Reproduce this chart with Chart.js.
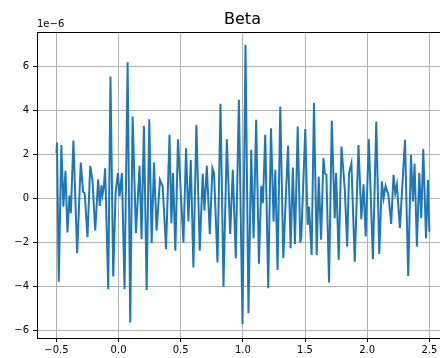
<!DOCTYPE html>
<html>
<head>
<meta charset="utf-8">
<script src="https://cdn.jsdelivr.net/npm/chart.js@4/dist/chart.umd.min.js"></script>
<style>
  html, body { margin: 0; padding: 0; background: #fff; overflow: hidden; }
  #wrap { width: 440px; height: 358px; overflow: hidden; }
</style>
</head>
<body>
<div id="wrap"><canvas id="betaChart" width="460" height="358"></canvas></div>
<script>
// time axis (x) and signal (in units of 1e-6)
let xVals = [
    -0.500, -0.495, -0.481, -0.460, -0.444, -0.427, -0.411, -0.395, -0.384, -0.363,
    -0.333, -0.304, -0.285, -0.272, -0.250, -0.228, -0.210, -0.188, -0.164, -0.151,
    -0.137, -0.129, -0.119, -0.108, -0.083, -0.065, -0.043, -0.024, -0.005, 0.008,
    0.027, 0.048, 0.073, 0.094, 0.113, 0.140, 0.169, 0.185, 0.204, 0.226,
    0.247, 0.266, 0.285, 0.306, 0.333, 0.355, 0.382, 0.410, 0.425, 0.438,
    0.457, 0.478, 0.522, 0.543, 0.562, 0.581, 0.602, 0.626, 0.653, 0.677,
    0.691, 0.710, 0.734, 0.755, 0.768, 0.796, 0.820, 0.844, 0.871, 0.898,
    0.919, 0.943, 0.968, 0.997, 1.021, 1.045, 1.067, 1.086, 1.107, 1.129,
    1.148, 1.161, 1.180, 1.204, 1.226, 1.247, 1.261, 1.279, 1.301, 1.325,
    1.363, 1.384, 1.402, 1.419, 1.441, 1.462, 1.470, 1.502, 1.521, 1.532,
    1.553, 1.572, 1.594, 1.610, 1.629, 1.648, 1.659, 1.672, 1.693, 1.715,
    1.739, 1.750, 1.771, 1.793, 1.820, 1.839, 1.854, 1.873, 1.900, 1.930,
    1.953, 1.971, 1.988, 2.013, 2.046, 2.073, 2.097, 2.118, 2.132, 2.148,
    2.171, 2.193, 2.212, 2.226, 2.239, 2.263, 2.304, 2.330, 2.352, 2.368,
    2.381, 2.400, 2.419, 2.435, 2.451, 2.473, 2.489, 2.500
];
let betaVals = [
    2.05, 2.53, -3.79, 2.42, -0.38, 1.24, -1.56, 0.12, -0.68, 2.62,
    -2.50, 1.62, 0.30, 0.20, -1.77, 1.47, 0.83, -1.47, 0.86, -0.35,
    0.58, 0.15, 0.50, 1.36, -4.14, 5.53, -3.56, 0.23, 1.14, 0.08,
    1.14, -4.14, 6.17, -5.65, 3.71, -1.59, 1.47, -1.86, 3.29, -4.17,
    3.59, -2.05, 1.62, -1.47, 0.83, 0.53, -2.32, 2.88, -1.14, 1.14,
    -2.38, 2.68, -2.02, 2.27, -1.06, 1.74, -3.15, 3.33, -2.38, 1.11,
    -0.56, 1.47, -1.64, 1.36, 1.14, -2.92, 4.29, -4.02, 2.68, -1.62,
    1.29, -2.73, 4.47, -5.71, 6.97, -5.23, 2.20, -1.82, 3.56, -2.98,
    0.56, -0.23, 2.88, -4.09, 3.18, -1.06, 1.29, -3.26, 4.17, -2.73,
    2.38, -2.27, 1.39, -2.08, 3.26, -2.02, -1.76, 3.14, -1.21, -0.38,
    -2.58, 4.32, -2.58, 0.98, -1.89, 1.82, 1.14, 1.06, -3.83, 3.52,
    -0.91, 1.14, -2.80, 2.35, 0.38, -2.20, 1.14, 1.59, -2.88, 2.42,
    -0.95, 0.63, -1.74, 2.68, -2.77, 3.48, -2.53, 0.76, 0.00, 0.56,
    0.15, -1.17, 1.06, 0.23, 0.61, -1.36, 2.65, -3.53, 1.97, -0.15,
    1.56, -2.20, 1.14, -0.91, 2.23, -1.82, 0.83, -1.52
];

let minus = (v) => String(v).replace("-", "\u2212");

// title, offset text and top spine, drawn like matplotlib
let decorPlugin = {
    id: "decor",
    afterDraw(chart) {
        let ctx = chart.ctx;
        let area = chart.chartArea;
        ctx.save();
        ctx.strokeStyle = "#000";
        ctx.lineWidth = 1;
        ctx.beginPath();
        ctx.moveTo(area.left, area.top + 0.5);
        ctx.lineTo(area.right, area.top + 0.5);
        ctx.stroke();
        ctx.fillStyle = "#000";
        ctx.textBaseline = "alphabetic";
        ctx.textAlign = "center";
        ctx.font = "16px 'DejaVu Sans'";
        ctx.fillText("Beta", (area.left + area.right) / 2, 24);
        ctx.textAlign = "left";
        ctx.font = "10px 'DejaVu Sans'";
        ctx.fillText("1e\u22126", area.left, 27);
        ctx.restore();
    },
};

let points = xVals.map((x, i) => ({ x: x, y: betaVals[i] }));

new Chart(document.getElementById("betaChart").getContext("2d"), {
    type: "line",
    data: {
        datasets: [{
            data: points,
            borderColor: "#1f77b4",
            borderWidth: 2,
            pointRadius: 0,
            tension: 0,
            fill: false,
        }, ],
    },
    options: {
        responsive: false,
        animation: false,
        events: [],
        layout: { padding: { top: 32, right: 12, left: 0, bottom: 0 } },
        plugins: { legend: { display: false }, tooltip: { enabled: false } },
        scales: {
            x: {
                type: "linear",
                min: -0.656,
                max: 2.65,
                afterFit: (s) => { s.height = 20; },
                border: { display: true, color: "#000", width: 1 },
                grid: { color: "#b0b0b0", lineWidth: 1, tickColor: "#000", tickLength: 4 },
                ticks: {
                    stepSize: 0.5,
                    includeBounds: false,
                    maxRotation: 0,
                    padding: 2,
                    color: "#000",
                    font: { family: "DejaVu Sans", size: 10 },
                    callback: (v) => minus(v.toFixed(1)),
                },
            },
            y: {
                min: -6.35,
                max: 7.55,
                afterFit: (s) => { s.width = 37; },
                border: { display: true, color: "#000", width: 1 },
                grid: { color: "#b0b0b0", lineWidth: 1, tickColor: "#000", tickLength: 4 },
                ticks: {
                    stepSize: 2,
                    includeBounds: false,
                    padding: 4,
                    color: "#000",
                    font: { family: "DejaVu Sans", size: 10 },
                    callback: (v) => minus(v),
                },
            },
        },
    },
    plugins: [decorPlugin],
});
</script>
</body>
</html>
